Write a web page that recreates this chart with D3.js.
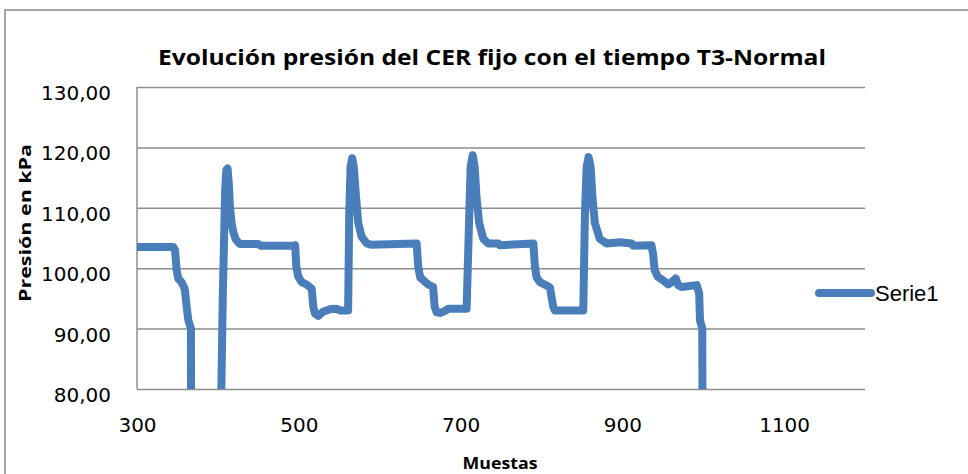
<!DOCTYPE html>
<html>
<head>
<meta charset="utf-8">
<script src="https://cdn.jsdelivr.net/npm/d3@7"></script>
<style>
  html, body { margin: 0; padding: 0; background: #fff; }
  svg { display: block; }
</style>
</head>
<body>
<svg id="chart" width="968" height="474"></svg>
<script>
// ---- Data ----
const titleText = "Evolución presión del CER fijo con el tiempo T3-Normal";
const xAxisTitle = "Muestas";
const yAxisTitle = "Presión en kPa";
const seriesName = "Serie1";

const xTicks = [300, 500, 700, 900, 1100];
const yTicks = [80, 90, 100, 110, 120, 130];

const muestras = [
  300, 345, 347, 349, 351, 355, 359, 361.4, 363.4, 366.7, 367,
  402, 406, 409, 410.5, 412, 413.5, 415, 417, 419, 422, 427, 450, 453, 494,
  495.5, 497, 499.4, 503.6, 509.7, 516, 518, 520, 524, 530, 538.6, 546.8, 551, 561,
  562.4, 564, 566, 568, 570.7, 573.5, 577.7, 584, 589, 645.7,
  647.7, 650, 654, 660, 666, 668, 670.5, 674.5, 680.7, 684.8, 707.5,
  710.8, 712.5, 715, 717.4, 720, 723, 728, 734, 746.6, 748.7, 790,
  792, 794, 798, 804, 810.5, 814.6, 816.7, 851.7,
  853.8, 855.9, 858.3, 860.8, 863.3, 866, 872, 880.6, 897, 911.5, 913.5, 936,
  938, 940, 944, 950.5, 956.7, 961, 966, 969, 973.3, 992, 995, 996, 998.8, 999.5
];
const presion = [
  103.5, 103.5, 103.0, 99.65, 98.3, 97.7, 96.6, 93.6, 91.4, 90.0, 60,
  60, 95, 113, 116.3, 116.5, 114.0, 110.0, 107.5, 106.0, 104.8, 104.0, 104.0, 103.7, 103.7,
  103.8, 100.2, 98.6, 97.7, 97.3, 96.6, 93.6, 92.5, 92.1, 92.8, 93.2, 93.3, 93.0, 93.0,
  109.1, 116.8, 118.2, 116.8, 111.9, 107.5, 105.2, 104.1, 103.9, 104.1,
  100.2, 98.5, 98.0, 97.3, 96.9, 93.6, 92.7, 92.6, 92.9, 93.3, 93.3,
  109.1, 116.8, 118.7, 116.8, 111.3, 107.5, 104.9, 104.1, 104.1, 103.8, 104.1,
  100.2, 98.5, 97.7, 97.3, 96.8, 93.6, 93.0, 93.0,
  109.1, 116.8, 118.4, 116.8, 111.3, 107.5, 104.9, 104.1, 104.3, 104.1, 103.7, 103.8,
  102.4, 99.65, 98.55, 98.0, 97.3, 97.7, 98.3, 97.2, 96.9, 97.2, 95.8, 91.4, 90.0, 60
];

// ---- Layout ----
const svg = d3.select("#chart");
const plot = { left: 137, right: 865, top: 87, bottom: 389 };
const lineColor = "#4a7ebb";
const gridColor = "#8e8e8e";

const x = d3.scaleLinear().domain([300, 1200]).range([plot.left, plot.right]);
const y = d3.scaleLinear().domain([80, 130]).range([plot.bottom, plot.top]);

// Chart outer border
svg.append("rect")
  .attr("x", 5).attr("y", 10)
  .attr("width", 980).attr("height", 480)
  .attr("fill", "none")
  .attr("stroke", "#a6a6a6")
  .attr("stroke-width", 2);

// Title
svg.append("text")
  .attr("x", 492).attr("y", 65)
  .attr("text-anchor", "middle")
  .attr("font-family", "'Open Sans', 'Liberation Sans', sans-serif")
  .attr("font-weight", "bold")
  .attr("font-size", 22)
  .attr("textLength", 668)
  .attr("lengthAdjust", "spacingAndGlyphs")
  .attr("fill", "#000")
  .text(titleText);

// Gridlines + Y axis labels
const yAxis = d3.axisLeft(y)
  .tickValues(yTicks)
  .tickSize(-(plot.right - plot.left))
  .tickPadding(26)
  .tickFormat(d => d3.format(".2f")(d).replace(".", ","));
const gy = svg.append("g")
  .attr("transform", `translate(${plot.left},0)`)
  .call(yAxis);
gy.select(".domain").remove();
gy.selectAll(".tick line").attr("stroke", gridColor).attr("stroke-width", 1.5);
gy.selectAll(".tick text")
  .attr("font-family", "'DejaVu Sans', sans-serif")
  .attr("font-size", 20)
  .attr("fill", "#000")
  .attr("dy", "0.62em");

// Left axis line
svg.append("line")
  .attr("x1", plot.left).attr("x2", plot.left)
  .attr("y1", plot.top).attr("y2", plot.bottom)
  .attr("stroke", gridColor).attr("stroke-width", 1.5);

// X axis
const xAxis = d3.axisBottom(x)
  .tickValues(xTicks)
  .tickSize(0)
  .tickPadding(29)
  .tickFormat(d3.format("d"));
const gx = svg.append("g")
  .attr("transform", `translate(0,${plot.bottom})`)
  .call(xAxis);
gx.select(".domain").remove();
gx.selectAll(".tick text")
  .attr("font-family", "'DejaVu Sans', sans-serif")
  .attr("font-size", 20)
  .attr("fill", "#000");

// Axis titles
svg.append("text")
  .attr("x", 500).attr("y", 469)
  .attr("text-anchor", "middle")
  .attr("font-family", "'Open Sans', 'Liberation Sans', sans-serif")
  .attr("font-weight", "bold")
  .attr("font-size", 16)
  .attr("textLength", 75)
  .attr("lengthAdjust", "spacingAndGlyphs")
  .attr("fill", "#000")
  .text(xAxisTitle);

svg.append("text")
  .attr("transform", "translate(31,223) rotate(-90)")
  .attr("text-anchor", "middle")
  .attr("font-family", "'Open Sans', 'Liberation Sans', sans-serif")
  .attr("font-weight", "bold")
  .attr("font-size", 16)
  .attr("textLength", 158)
  .attr("lengthAdjust", "spacingAndGlyphs")
  .attr("fill", "#000")
  .text(yAxisTitle);

// Clip
svg.append("clipPath").attr("id", "clip")
  .append("rect")
  .attr("x", plot.left).attr("y", plot.top - 10)
  .attr("width", plot.right - plot.left)
  .attr("height", plot.bottom - plot.top + 10);

const data = muestras.map((m, i) => ({ x: m, y: presion[i] }));
const line = d3.line().x(d => x(d.x)).y(d => y(d.y));

svg.append("path")
  .datum(data)
  .attr("clip-path", "url(#clip)")
  .attr("d", line)
  .attr("fill", "none")
  .attr("stroke", lineColor)
  .attr("stroke-width", 8)
  .attr("stroke-linejoin", "round")
  .attr("stroke-linecap", "round");

// Legend
const lg = svg.append("g");
lg.append("line")
  .attr("x1", 819).attr("x2", 871)
  .attr("y1", 293).attr("y2", 293)
  .attr("stroke", lineColor)
  .attr("stroke-width", 8)
  .attr("stroke-linecap", "round");
lg.append("text")
  .attr("x", 875).attr("y", 301)
  .attr("font-family", "'Liberation Sans', Arial, sans-serif")
  .attr("font-size", 22)
  .attr("fill", "#000")
  .text(seriesName);
</script>
</body>
</html>
